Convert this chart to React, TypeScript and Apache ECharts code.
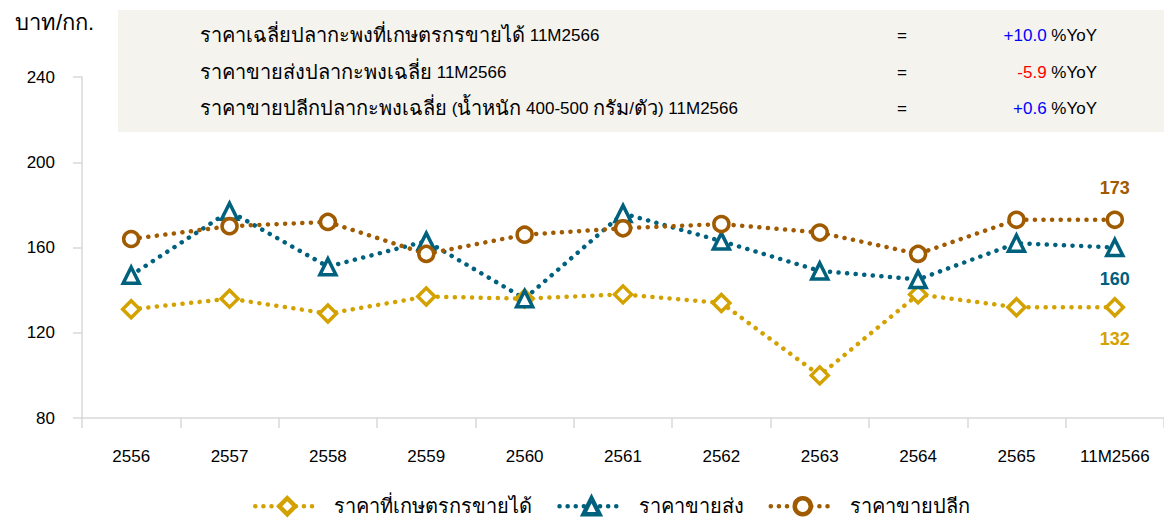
import React, { useEffect, useRef } from "react";
import * as echarts from "echarts";

const categories = ["2556", "2557", "2558", "2559", "2560", "2561", "2562", "2563", "2564", "2565", "11M2566"];
const farmerPrice = [131, 136, 129, 137, 136, 138, 134, 100, 138, 132, 132];
const wholesalePrice = [147, 177, 151, 163, 136, 176, 163, 149, 145, 162, 160];
const retailPrice = [164, 170, 172, 157, 166, 169, 171, 167, 157, 173, 173];
const seriesNames = ["ราคาที่เกษตรกรขายได้", "ราคาขายส่ง", "ราคาขายปลีก"];
const yTicks = { min: 80, max: 240, interval: 40 };
const infoLines = [
  { parts: [["t", "ราคาเฉลี่ยปลากะพงที่เกษตรกรขายได้"], ["l", " 11M2566"]], value: "+10.0", positive: true },
  { parts: [["t", "ราคาขายส่งปลากะพงเฉลี่ย"], ["l", " 11M2566"]], value: "-5.9", positive: false },
  {
    parts: [
      ["t", "ราคาขายปลีกปลากะพงเฉลี่ย"],
      ["l", " ("],
      ["t", "น้ำหนัก"],
      ["l", " 400-500 "],
      ["t", "กรัม"],
      ["l", "/"],
      ["t", "ตัว"],
      ["l", ") 11M2566"],
    ],
    value: "+0.6",
    positive: true,
  },
];

const FONT = "'Liberation Sans', Arial, sans-serif";
const GOLD = "#D4A200";
const TEAL = "#00617F";
const BROWN = "#A05A00";

export default function App() {
  const ref = useRef<HTMLDivElement>(null);
  useEffect(() => {
    if (!ref.current) return;
    const chart = echarts.init(ref.current, null, { renderer: "svg" });

    const mk = (
      name: string,
      values: number[],
      color: string,
      symbol: string,
      size: number,
      labelPos: "top" | "bottom"
    ) => ({
      name,
      type: "line",
      data: values.map((v, i) =>
        i === values.length - 1
          ? {
              value: v,
              label: {
                show: true,
                position: labelPos,
                distance: labelPos === "top" ? 14 : 13,
                color,
                fontSize: 18,
                fontWeight: "bold",
                fontFamily: FONT,
              },
            }
          : v
      ),
      symbol,
      symbolSize: size,
      showAllSymbol: true,
      lineStyle: { color, width: 4.5, type: [0.1, 8.5], cap: "round" },
      itemStyle: { color: "#ffffff", borderColor: color, borderWidth: 3.5 },
      z: 3,
    });

    const graphics: any[] = [
      {
        type: "rect",
        shape: { x: 118, y: 10, width: 1046, height: 122 },
        style: { fill: "#F4F3EE" },
        z: 0,
      },
      {
        type: "text",
        x: 15,
        y: 22,
        style: { text: "บาท/กก.", font: `22px ${FONT}`, fill: "#000", verticalAlign: "middle" },
      },
    ];
    const ys = [35, 72, 108];
    infoLines.forEach((ln, i) => {
      graphics.push({
        type: "text",
        x: 200,
        y: ys[i],
        style: {
          text: ln.parts.map(([k, s]) => `{${k}|${s}}`).join(""),
          font: `17px ${FONT}`,
          fill: "#000",
          verticalAlign: "middle",
          rich: {
            t: { font: `20px ${FONT}`, fill: "#000" },
            l: { font: `17px ${FONT}`, fill: "#000" },
          },
        },
        z: 5,
      });
      graphics.push({
        type: "text",
        x: 902,
        y: ys[i],
        style: { text: "=", font: `17px ${FONT}`, fill: "#000", verticalAlign: "middle", align: "center" },
        z: 5,
      });
      graphics.push({
        type: "text",
        x: 1097,
        y: ys[i],
        style: {
          text: `{v|${ln.value}} %YoY`,
          font: `17px ${FONT}`,
          fill: "#000",
          verticalAlign: "middle",
          align: "right",
          rich: { v: { fill: ln.positive ? "#0000FF" : "#FF0000", font: `17px ${FONT}` } },
        },
        z: 5,
      });
    });

    chart.setOption({
      animation: false,
      textStyle: { fontFamily: FONT },
      grid: { left: 82, top: 77, bottom: 100, width: 1088, containLabel: false },
      xAxis: {
        type: "category",
        data: categories,
        boundaryGap: true,
        axisLine: { show: true, lineStyle: { color: "#D9D9D9", width: 1.5 } },
        axisTick: { show: true, length: 10, lineStyle: { color: "#D9D9D9", width: 1.5 }, alignWithLabel: false },
        axisLabel: { color: "#000", fontSize: 17, margin: 30, fontFamily: FONT },
        splitLine: { show: false },
      },
      yAxis: {
        type: "value",
        min: yTicks.min,
        max: yTicks.max,
        interval: yTicks.interval,
        axisLine: { show: true, lineStyle: { color: "#D9D9D9", width: 1.5 } },
        axisTick: { show: true, length: 9, lineStyle: { color: "#D9D9D9", width: 1.5 } },
        axisLabel: { color: "#000", fontSize: 17, margin: 27, fontFamily: FONT },
        splitLine: { show: false },
      },
      legend: {
        top: 491,
        left: 248,
        itemWidth: 64,
        itemHeight: 20,
        itemGap: 25,
        lineStyle: { width: 4.5, type: [0.1, 8], cap: "round" },
        itemStyle: { borderWidth: 4.5 },
        textStyle: { color: "#000", fontSize: 20, fontFamily: FONT, padding: [0, 0, 0, 10] },
        data: seriesNames,
      },
      graphic: graphics,
      series: [
        mk(seriesNames[0], farmerPrice, GOLD, "diamond", 17, "bottom"),
        mk(seriesNames[1], wholesalePrice, TEAL, "triangle", 16, "bottom"),
        mk(seriesNames[2], retailPrice, BROWN, "circle", 15, "top"),
      ],
    });
    return () => chart.dispose();
  }, []);
  return (
    <div
      ref={ref}
      style={{ position: "fixed", left: 0, top: 0, width: 1164, height: 518, background: "#fff" }}
    />
  );
}
